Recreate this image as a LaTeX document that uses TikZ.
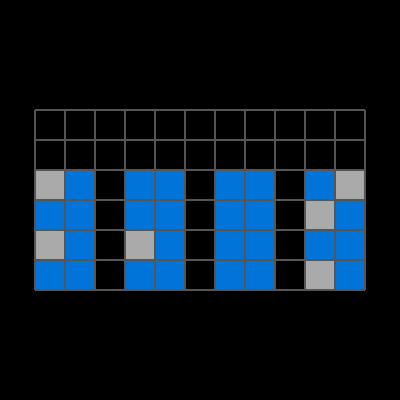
\documentclass[tikz,border=0pt]{standalone}
\definecolor{cellblue}{RGB}{0,116,217}
\definecolor{cellgray}{RGB}{170,170,170}
\definecolor{gridgray}{RGB}{85,85,85}
\begin{document}
\begin{tikzpicture}[scale = 0.75]
        \fill [black] (-1.1667,3.6667) rectangle (12.1667,-9.6667);
        \useasboundingbox (-1.1667,3.6667) rectangle (12.1667,-9.6667);
        \foreach \r/\cols in {2/{cellgray,cellblue,black,cellblue,cellblue,black,cellblue,cellblue,black,cellblue,cellgray},
                              3/{cellblue,cellblue,black,cellblue,cellblue,black,cellblue,cellblue,black,cellgray,cellblue},
                              4/{cellgray,cellblue,black,cellgray,cellblue,black,cellblue,cellblue,black,cellblue,cellblue},
                              5/{cellblue,cellblue,black,cellblue,cellblue,black,cellblue,cellblue,black,cellgray,cellblue}}
          \foreach \c [count = \i from 0] in \cols
            \fill [\c] (\i,-\r) rectangle ++(1,-1);
        \draw [gridgray, line width = 1.4pt] (0,0) grid (11,-6);
      \end{tikzpicture}
\end{document}
